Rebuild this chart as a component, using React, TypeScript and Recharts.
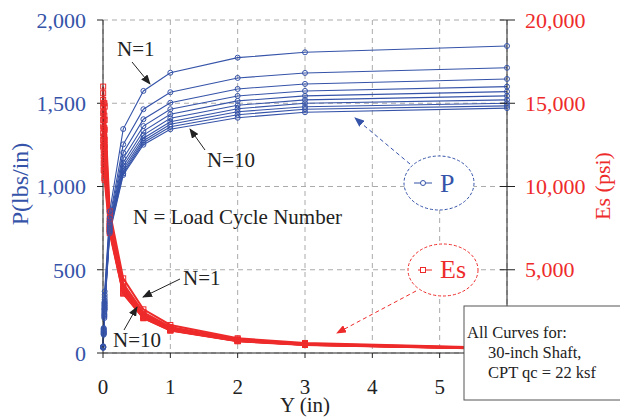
import React from 'react';
import { LineChart, Line, XAxis, YAxis, CartesianGrid } from 'recharts';

// lateral displacement (in) at each reading
const Y_IN = [0.0025, 0.01, 0.02, 0.025, 0.1, 0.3, 0.6, 1, 2, 3, 6];
const CYCLES = [1, 2, 3, 4, 5, 6, 7, 8, 9, 10];

// soil reaction P (lbs/in), one row per load cycle
const P_CYCLES = [
  [40, 150, 300, 370, 850, 1345, 1574, 1683, 1774, 1806, 1844],
  [39, 145, 285, 350, 810, 1253, 1464, 1566, 1652, 1682, 1713],
  [38, 140, 270, 335, 790, 1203, 1404, 1503, 1586, 1616, 1646],
  [37, 135, 260, 320, 775, 1169, 1363, 1464, 1544, 1574, 1600],
  [36, 130, 250, 310, 765, 1143, 1333, 1434, 1514, 1544, 1570],
  [35, 126, 240, 300, 755, 1123, 1309, 1410, 1488, 1520, 1544],
  [34, 122, 232, 290, 745, 1105, 1290, 1389, 1467, 1500, 1520],
  [33, 118, 225, 280, 738, 1091, 1275, 1374, 1449, 1479, 1500],
  [32, 114, 218, 270, 730, 1079, 1263, 1359, 1431, 1464, 1484],
  [31, 110, 210, 260, 720, 1069, 1251, 1344, 1413, 1446, 1471],
];

// secant soil modulus Es (psi), one row per load cycle
const ES_CYCLES = [
  [16000, 15000, 15000, 14800, 8500, 4483, 2623, 1683, 887, 602, 307],
  [15600, 14500, 14250, 14000, 8100, 4177, 2440, 1566, 826, 561, 286],
  [15200, 14000, 13500, 13400, 7900, 4010, 2340, 1503, 793, 539, 274],
  [14800, 13500, 13000, 12800, 7750, 3897, 2272, 1464, 772, 525, 267],
  [14400, 13000, 12500, 12400, 7650, 3810, 2222, 1434, 757, 515, 262],
  [14000, 12600, 12000, 12000, 7550, 3743, 2182, 1410, 744, 507, 257],
  [13600, 12200, 11600, 11600, 7450, 3683, 2150, 1389, 734, 500, 253],
  [13200, 11800, 11250, 11200, 7380, 3637, 2125, 1374, 725, 493, 250],
  [12800, 11400, 10900, 10800, 7300, 3597, 2105, 1359, 716, 488, 247],
  [12400, 11000, 10500, 10400, 7200, 3563, 2085, 1344, 707, 482, 245],
];

// the 6 and 0 (right) ticks sit under the note box in the original
const X_TICKS = [0, 1, 2, 3, 4, 5];
const P_TICKS = [0, 500, 1000, 1500, 2000];
const ES_TICKS = [5000, 10000, 15000, 20000];

const BLUE = '#3553a8';
const RED = '#ee2b2b';
const INK = '#222';
const SERIF = "'Liberation Serif', Tinos, 'Times New Roman', Times, 'Nimbus Roman', 'DejaVu Serif', serif";

const rows = Y_IN.map((y, i) => {
  const r: Record<string, number> = { y };
  CYCLES.forEach((n, k) => {
    r['p' + n] = P_CYCLES[k][i];
    r['es' + n] = ES_CYCLES[k][i];
  });
  return r;
});

const fmt = (v: number) => v.toLocaleString('en-US');

const squareDot = (props: any) => {
  const { cx, cy, index } = props;
  if (cx == null || cy == null) return <g key={index} />;
  return (
    <rect key={index} x={cx - 2.5} y={cy - 2.5} width={5} height={5} fill="none" stroke={RED} strokeWidth={1} />
  );
};

// right axis ticks cross the axis line
const RightTick = (props: any) => {
  const { x, y, payload } = props;
  const ax = x - 18;
  return (
    <g>
      <line x1={ax - 7} x2={ax} y1={y} y2={y} stroke={INK} />
      <text x={x} y={y} dy="0.35em" fill={RED} fontSize={22} style={{ fontFamily: SERIF }}>
        {fmt(payload.value)}
      </text>
    </g>
  );
};

const txt: React.CSSProperties = { fontFamily: SERIF };

export default function App() {
  return (
    <div style={{ position: 'absolute', left: 0, top: 0, width: 620, height: 417, background: '#fff', fontFamily: SERIF }}>
      <LineChart width={620} height={417} data={rows} margin={{ top: 20, right: 0, bottom: 0, left: 0 }} style={txt}>
        <CartesianGrid yAxisId="p" stroke="#aaa" strokeDasharray="5 4" />
        <XAxis
          dataKey="y"
          type="number"
          domain={[0, 6]}
          ticks={X_TICKS}
          height={64}
          tickSize={5}
          tickMargin={21}
          axisLine={{ stroke: INK }}
          tickLine={{ stroke: INK }}
          tick={{ fill: INK, fontSize: 21, style: txt }}
        />
        <YAxis
          yAxisId="p"
          orientation="left"
          width={103}
          domain={[0, 2000]}
          ticks={P_TICKS}
          tickFormatter={fmt}
          tickSize={6}
          tickMargin={11}
          axisLine={{ stroke: INK }}
          tickLine={{ stroke: INK }}
          tick={{ fill: BLUE, fontSize: 22, style: txt }}
        />
        <YAxis
          yAxisId="es"
          orientation="right"
          width={113}
          domain={[0, 20000]}
          ticks={ES_TICKS}
          tickSize={8}
          tickMargin={10}
          axisLine={{ stroke: INK }}
          tickLine={{ stroke: INK }}
          tick={<RightTick />}
        />
        {CYCLES.map((n) => (
          <Line
            key={'es' + n}
            yAxisId="es"
            dataKey={'es' + n}
            type="linear"
            stroke={RED}
            strokeWidth={2}
            dot={squareDot}
            isAnimationActive={false}
          />
        ))}
        {CYCLES.map((n) => (
          <Line
            key={'p' + n}
            yAxisId="p"
            dataKey={'p' + n}
            type="linear"
            stroke={BLUE}
            strokeWidth={1.1}
            dot={{ r: 2.5, fill: 'none', stroke: BLUE, strokeWidth: 1 }}
            isAnimationActive={false}
          />
        ))}
      </LineChart>
      <svg
        width={620}
        height={417}
        style={{ position: 'absolute', left: 0, top: 0, pointerEvents: 'none', fontFamily: SERIF }}
      >
        <defs>
          <marker id="ahK" markerWidth="10" markerHeight="8" refX="9" refY="4" orient="auto" markerUnits="userSpaceOnUse">
            <path d="M0,0 L10,4 L0,8 z" fill={INK} />
          </marker>
          <marker id="ahB" markerWidth="10" markerHeight="8" refX="9" refY="4" orient="auto" markerUnits="userSpaceOnUse">
            <path d="M0,0 L10,4 L0,8 z" fill={BLUE} />
          </marker>
          <marker id="ahR" markerWidth="10" markerHeight="8" refX="9" refY="4" orient="auto" markerUnits="userSpaceOnUse">
            <path d="M0,0 L10,4 L0,8 z" fill={RED} />
          </marker>
        </defs>

        {/* axis titles */}
        <text transform="translate(28,184) rotate(-90)" textAnchor="middle" fill={BLUE} fontSize={24}>
          P(lbs/in)
        </text>
        <text transform="translate(610,186) rotate(-90)" textAnchor="middle" fill={RED} fontSize={22}>
          Es (psi)
        </text>
        <text x={305} y={412} textAnchor="middle" fill={INK} fontSize={21}>
          Y (in)
        </text>

        {/* cycle labels */}
        <text x={117} y={56} fill={INK} fontSize={21}>N=1</text>
        <line x1={132} y1={62} x2={150} y2={84} stroke={INK} strokeWidth={1} markerEnd="url(#ahK)" />
        <text x={207} y={167} fill={INK} fontSize={21}>N=10</text>
        <line x1={205} y1={150} x2={190} y2={129} stroke={INK} strokeWidth={1} markerEnd="url(#ahK)" />
        <text x={133} y={224} fill={INK} fontSize={21}>N = Load Cycle Number</text>
        <text x={183} y={285} fill={INK} fontSize={21}>N=1</text>
        <line x1={180} y1={279} x2={143} y2={297} stroke={INK} strokeWidth={1} markerEnd="url(#ahK)" />
        <text x={113} y={347} fill={INK} fontSize={21}>N=10</text>
        <line x1={124} y1={330} x2={137} y2={307} stroke={INK} strokeWidth={1} markerEnd="url(#ahK)" />

        {/* P legend bubble */}
        <ellipse cx={439} cy={183} rx={35} ry={27} fill="#fff" stroke={BLUE} strokeDasharray="3 2" />
        <line x1={414} x2={432} y1={183} y2={183} stroke={BLUE} />
        <circle cx={423} cy={183} r={2.5} fill="#fff" stroke={BLUE} />
        <text x={440} y={192} fill={BLUE} fontSize={26}>P</text>
        <line x1={410} y1={164} x2={355} y2={118} stroke={BLUE} strokeDasharray="4 3" markerEnd="url(#ahB)" />

        {/* Es legend bubble */}
        <ellipse cx={443} cy={270} rx={35} ry={26} fill="#fff" stroke={RED} strokeDasharray="3 2" />
        <line x1={418} x2={432} y1={270} y2={270} stroke={RED} />
        <rect x={420.5} y={267.5} width={5} height={5} fill="#fff" stroke={RED} />
        <text x={440} y={278} fill={RED} fontSize={26}>Es</text>
        <line x1={416} y1={291} x2={337} y2={333} stroke={RED} strokeDasharray="4 3" markerEnd="url(#ahR)" />

        {/* note box */}
        <rect x={464} y={306} width={170} height={94} fill="#fff" stroke="#555" />
        <text x={467} y={338} fill={INK} fontSize={16.5}>All Curves for:</text>
        <text x={488} y={358} fill={INK} fontSize={16.5}>30-inch Shaft,</text>
        <text x={488} y={378} fill={INK} fontSize={16.5}>CPT qc = 22 ksf</text>
      </svg>
    </div>
  );
}
